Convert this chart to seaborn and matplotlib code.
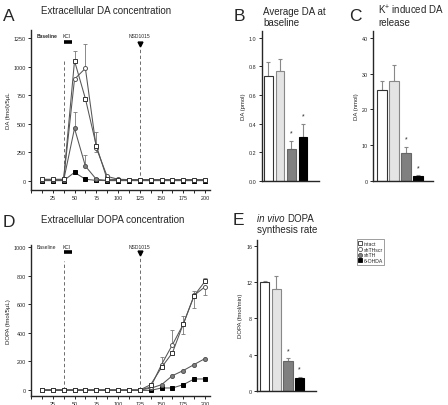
import numpy as np
import pandas as pd
import matplotlib
matplotlib.use("Agg")
import matplotlib.pyplot as plt
from matplotlib.lines import Line2D
import seaborn as sns

# ---------------- data ----------------
groups = ["intact", "shTHscr", "shTH", "6-OHDA"]
times = [12.5, 25, 37.5, 50, 62.5, 75, 87.5, 100, 112.5, 125, 137.5, 150, 162.5, 175, 187.5, 200]

da_intact = [15, 15, 15, 1050, 720, 310, 15, 12, 12, 12, 12, 12, 12, 12, 12, 12]
da_scr = [12, 12, 12, 890, 985, 290, 40, 15, 12, 12, 12, 12, 12, 12, 12, 12]
da_shth = [5, 5, 5, 460, 130, 15, 5, 5, 5, 5, 5, 5, 5, 5, 5, 5]
da_ohda = [3, 3, 3, 75, 15, 5, 3, 3, 3, 3, 3, 3, 3, 3, 3, 3]
# error (positive = drawn up, negative = drawn down), 0 = none
da_err_intact = [0, 0, 0, 90, 0, 120, 0, 0, 0, 0, 0, 0, 0, 0, 0, 0]
da_err_scr = [0, 0, 0, 0, 215, -40, 0, 0, 0, 0, 0, 0, 0, 0, 0, 0]
da_err_shth = [0, 0, 0, 145, 95, 0, 0, 0, 0, 0, 0, 0, 0, 0, 0, 0]
da_err_ohda = [0] * 16

dopa_intact = [0, 0, 0, 0, 0, 0, 0, 0, 0, 0, 37, 158, 260, 462, 660, 760]
dopa_scr = [0, 0, 0, 0, 0, 0, 0, 0, 0, 0, 20, 178, 316, 460, 662, 722]
dopa_shth = [0, 0, 0, 0, 0, 0, 0, 0, 0, 0, 12, 37, 100, 136, 178, 220]
dopa_ohda = [-3, -3, -3, -3, -3, -3, -3, -3, -3, -3, -3, 14, 14, 37, 77, 77]
dopa_err_intact = [0] * 13 + [52, 35, 25]
dopa_err_scr = [0] * 11 + [53, 105, -67, -87, -60]
dopa_err_shth = [0] * 16
dopa_err_ohda = [0] * 16

b_vals = [0.73, 0.77, 0.22, 0.31]
b_err = [0.10, 0.08, 0.06, 0.09]
c_vals = [25.5, 28.0, 7.7, 1.3]
c_err = [2.5, 4.5, 1.9, 0.3]
e_vals = [12.0, 11.3, 3.3, 1.4]
e_err = [0.2, 1.4, 0.3, 0.15]
bar_sig = [False, False, True, True]

# ---------------- style ----------------
sns.set_theme(style="ticks")
plt.rcParams["font.family"] = ["Liberation Sans", "DejaVu Sans"]
plt.rcParams["mathtext.fontset"] = "custom"
plt.rcParams["mathtext.rm"] = "Liberation Sans"
plt.rcParams["axes.linewidth"] = 1.0
plt.rcParams["xtick.major.width"] = 0.7
plt.rcParams["ytick.major.width"] = 0.7
plt.rcParams["xtick.major.size"] = 2.2
plt.rcParams["ytick.major.size"] = 2.2
plt.rcParams["xtick.major.pad"] = 1.5
plt.rcParams["ytick.major.pad"] = 1.5

W, H = 448, 406
fig = plt.figure(figsize=(W / 100, H / 100), dpi=100)
fig.patch.set_facecolor("white")


def ax_px(left, right, top, bottom):
    return fig.add_axes([left / W, 1 - bottom / H, (right - left) / W, (bottom - top) / H])


TICK_FS = 3.9
LAB_FS = 4.3
TITLE_FS = 7.0
LETTER_FS = 12.5
ANN_FS = 3.6

series_style = {
    "intact": dict(marker="s", mfc="white", mec="#333333"),
    "shTHscr": dict(marker="o", mfc="white", mec="#555555"),
    "shTH": dict(marker="o", mfc="#808080", mec="#555555"),
    "6-OHDA": dict(marker="s", mfc="black", mec="black"),
}


def line_panel(ax, vals, errs, ylim, yticks, ylabel, ann_y, kcl_y, arrow_y, dash_top, bold_base):
    draw_order = ["6-OHDA", "shTH", "shTHscr", "intact"]
    for g in draw_order:
        y = vals[g]
        e = errs[g]
        t = np.array(times)
        ya = np.array(y, dtype=float)
        ea = np.array(e, dtype=float)
        lower = np.where(ea < 0, -ea, 0)
        upper = np.where(ea > 0, ea, 0)
        mask = ea != 0
        if mask.any():
            ax.errorbar(t[mask], ya[mask], yerr=[lower[mask], upper[mask]], fmt="none",
                        ecolor="#777777", elinewidth=0.6, capsize=1.5, capthick=0.6, zorder=2)
        st = series_style[g]
        df = pd.DataFrame({"time": times, "value": y})
        sns.lineplot(data=df, x="time", y="value", ax=ax, color="#555555", linewidth=0.75,
                     marker=st["marker"], markersize=2.9, markerfacecolor=st["mfc"],
                     markeredgecolor=st["mec"], markeredgewidth=0.7, zorder=3)
    ax.set_xlim(0, 205.7)
    ax.set_ylim(*ylim)
    ax.set_xticks(np.arange(0, 200.1, 12.5))
    ax.set_xticklabels([("%d" % v) if (v % 25 == 0 and v > 0) else "" for v in np.arange(0, 200.1, 12.5)])
    ax.set_yticks(yticks)
    ax.set_yticklabels([str(v) for v in yticks])
    ax.tick_params(labelsize=TICK_FS)
    ax.set_xlabel("")
    ax.set_ylabel(ylabel, fontsize=LAB_FS, labelpad=2)
    sns.despine(ax=ax)
    for xv in (37.5, 125):
        ax.vlines(xv, 0, dash_top if xv == 37.5 else arrow_y - (ylim[1] - ylim[0]) * 0.03,
                  colors="#555555", linewidth=0.6, linestyles=(0, (4, 3)), zorder=1)
    ax.text(7, ann_y, "Baseline", fontsize=ANN_FS, fontweight="bold" if bold_base else "normal",
            va="center", ha="left")
    ax.text(36.5, ann_y, "KCl", fontsize=ANN_FS, va="center", ha="left")
    ax.hlines(kcl_y, 37.5, 47.5, colors="black", linewidth=2.6)
    ax.text(125, ann_y, "NSD1015", fontsize=ANN_FS, va="center", ha="center")
    ax.plot([125], [arrow_y], marker="v", color="black", markersize=3.5, linestyle="none")


# ---- Panel A ----
axA = ax_px(31, 210, 31, 191)
line_panel(axA,
           {"intact": da_intact, "shTHscr": da_scr, "shTH": da_shth, "6-OHDA": da_ohda},
           {"intact": da_err_intact, "shTHscr": da_err_scr, "shTH": da_err_shth, "6-OHDA": da_err_ohda},
           (-79, 1320), [0, 250, 500, 750, 1000, 1250], "DA (fmol)/5µL",
           1275, 1218, 1200, 1070, True)

# ---- Panel D ----
axD = ax_px(31, 210, 246, 396.7)
line_panel(axD,
           {"intact": dopa_intact, "shTHscr": dopa_scr, "shTH": dopa_shth, "6-OHDA": dopa_ohda},
           {"intact": dopa_err_intact, "shTHscr": dopa_err_scr, "shTH": dopa_err_shth, "6-OHDA": dopa_err_ohda},
           (-40, 1014), [0, 200, 400, 600, 800, 1000], "DOPA (fmol/5µL)",
           1003, 967, 955, 905, False)

bar_colors = ["white", "#e4e4e4", "#808080", "black"]
bar_edges = ["#333333", "#888888", "#666666", "black"]


def bar_panel(ax, vals, errs, xlim, ylim, yticks, ylabel, width, star_off, fmt):
    df = pd.DataFrame({"group": groups, "value": vals})
    sns.barplot(data=df, x="group", y="value", hue="group", palette=bar_colors,
                order=groups, hue_order=groups, ax=ax, width=width, legend=False,
                linewidth=0.8, errorbar=None, zorder=2)
    for p, ec in zip(ax.patches, bar_edges):
        p.set_edgecolor(ec)
    ax.errorbar(np.arange(4), vals, yerr=[np.zeros(4), errs], fmt="none", ecolor="#888888",
                elinewidth=0.8, capsize=1.6, capthick=0.8, zorder=1)
    for i, s in enumerate(bar_sig):
        if s:
            ax.text(i, vals[i] + errs[i] + star_off, "*", ha="center", va="center", fontsize=5)
    ax.set_xlim(*xlim)
    ax.set_ylim(*ylim)
    ax.set_xticks([])
    ax.set_xlabel("")
    ax.set_yticks(yticks)
    ax.set_yticklabels([fmt % v for v in yticks])
    ax.tick_params(labelsize=TICK_FS)
    ax.set_ylabel(ylabel, fontsize=LAB_FS, labelpad=2)
    sns.despine(ax=ax)


axB = ax_px(261.5, 318.5, 32, 182)
bar_panel(axB, b_vals, b_err, (-0.59, 4.34), (0, 1.047), [0.0, 0.2, 0.4, 0.6, 0.8, 1.0],
          "DA (pmol)", 0.75, 0.055, "%.1f")

axC = ax_px(373, 433, 32, 182)
bar_panel(axC, c_vals, c_err, (-0.75, 4.27), (0, 41.9), [0, 10, 20, 30, 40],
          "DA (nmol)", 0.8, 2.2, "%d")

axE = ax_px(257.3, 315.7, 240.7, 391.7)
bar_panel(axE, e_vals, e_err, (-0.63, 4.37), (0, 16.73), [0, 4, 8, 12, 16],
          "DOPA (fmol/min)", 0.8, 0.85, "%d")

# ---- titles and letters ----
def ft(xp, yp, s, **kw):
    fig.text(xp / W, 1 - yp / H, s, **kw)

ft(3, 21, "A", fontsize=LETTER_FS)
ft(41, 14, "Extracellular DA concentration", fontsize=TITLE_FS)
ft(234, 21, "B", fontsize=LETTER_FS)
ft(263, 15, "Average DA at", fontsize=TITLE_FS)
ft(263, 26, "baseline", fontsize=TITLE_FS)
ft(349, 21, "C", fontsize=LETTER_FS)
ft(378, 15, r"K$^{+}$ induced DA", fontsize=TITLE_FS)
ft(378, 26, "release", fontsize=TITLE_FS)
ft(3, 227, "D", fontsize=LETTER_FS)
ft(41, 223, "Extracellular DOPA concentration", fontsize=TITLE_FS)
ft(233, 225, "E", fontsize=LETTER_FS)
fig.text(257 / W, 1 - 222 / H, "in vivo", fontsize=TITLE_FS, style="italic")
ft(287, 222, "DOPA", fontsize=TITLE_FS)
ft(257, 233, "synthesis rate", fontsize=TITLE_FS)

# ---- legend ----
handles = []
for g in groups:
    st = series_style[g]
    handles.append(Line2D([0], [0], linestyle="none", marker=st["marker"], markersize=3.0,
                          markerfacecolor=st["mfc"], markeredgecolor=st["mec"], markeredgewidth=0.6))
leg = fig.legend(handles, groups, loc="upper left", bbox_to_anchor=(356.5 / W, 1 - 240 / H),
                 fontsize=3.7, frameon=True, fancybox=False, handlelength=0.6, handletextpad=0.4,
                 borderpad=0.35, labelspacing=0.15, borderaxespad=0)
leg.get_frame().set_edgecolor("#555555")
leg.get_frame().set_linewidth(0.5)

fig.savefig("out.png", dpi=100, facecolor="white")
